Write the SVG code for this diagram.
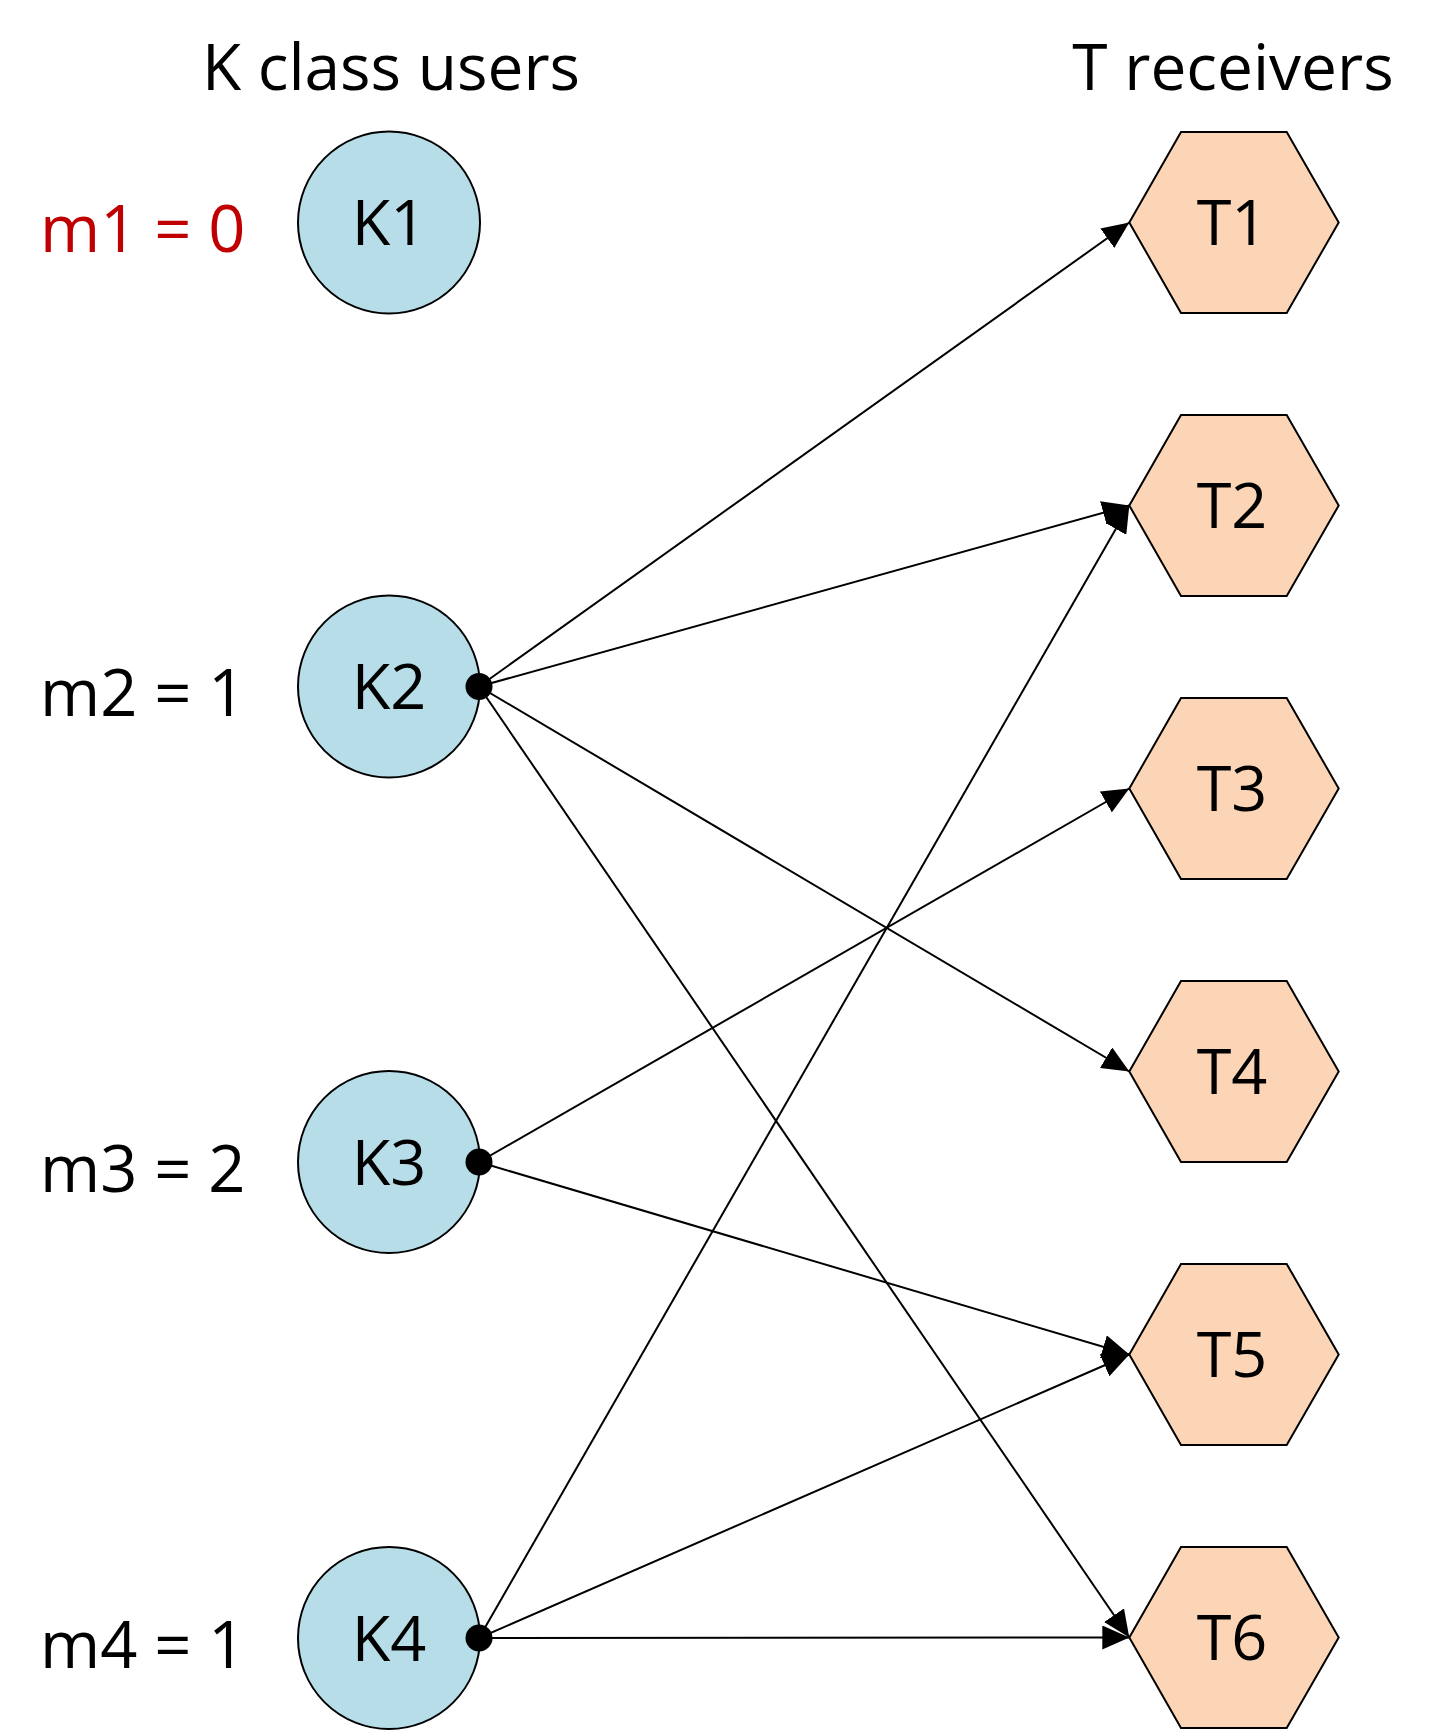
<svg xmlns="http://www.w3.org/2000/svg" width="1438" height="1731" viewBox="0 0 1438 1731">
<defs>
<style>
text{font-family:"Open Sans","Liberation Sans",sans-serif;fill:#000}
.title{font-size:64px;text-anchor:middle}
.lbl{font-size:63px;text-anchor:middle}
.m{font-size:65px;text-anchor:start}
.user{fill:#B7DDE8;stroke:#000;stroke-width:2}
.rx{fill:#FBD5B5;stroke:#000;stroke-width:2}
.edge{stroke:#000;stroke-width:2;fill:none;marker-end:url(#arr)}
.dot{fill:#000}
</style>
<marker id="arr" markerUnits="userSpaceOnUse" markerWidth="28" markerHeight="24" refX="27" refY="12" orient="auto">
<path d="M0,0 L27,12 L0,24 z" fill="#000"/>
</marker>
</defs>
<rect width="1438" height="1731" fill="#fff"/>
<text class="title" x="391" y="90">K class users</text>
<text class="title" x="1233" y="90">T receivers</text>
<text class="m" x="40" y="252" style="fill:#C00000">m1 = 0</text>
<text class="m" x="40" y="716">m2 = 1</text>
<text class="m" x="40" y="1192">m3 = 2</text>
<text class="m" x="40" y="1668">m4 = 1</text>
<g id="K1"><circle class="user" cx="389" cy="222.5" r="91"/><text class="lbl" x="389" y="245">K1</text></g>
<g id="K2"><circle class="user" cx="389" cy="686.5" r="91"/><text class="lbl" x="389" y="709">K2</text></g>
<g id="K3"><circle class="user" cx="389" cy="1162" r="91"/><text class="lbl" x="389" y="1184.5">K3</text></g>
<g id="K4"><circle class="user" cx="389" cy="1638" r="91"/><text class="lbl" x="389" y="1660.5">K4</text></g>
<g id="T1"><polygon class="rx" points="1129.3,222.5 1181,132 1286.7,132 1338.7,222.5 1286.7,313 1181,313"/><text class="lbl" x="1232" y="244.5">T1</text></g>
<g id="T2"><polygon class="rx" points="1129.3,505.5 1181,415 1286.7,415 1338.7,505.5 1286.7,596 1181,596"/><text class="lbl" x="1232" y="527.5">T2</text></g>
<g id="T3"><polygon class="rx" points="1129.3,788.5 1181,698 1286.7,698 1338.7,788.5 1286.7,879 1181,879"/><text class="lbl" x="1232" y="810.5">T3</text></g>
<g id="T4"><polygon class="rx" points="1129.3,1071.5 1181,981 1286.7,981 1338.7,1071.5 1286.7,1162 1181,1162"/><text class="lbl" x="1232" y="1093.5">T4</text></g>
<g id="T5"><polygon class="rx" points="1129.3,1354.5 1181,1264 1286.7,1264 1338.7,1354.5 1286.7,1445 1181,1445"/><text class="lbl" x="1232" y="1376.5">T5</text></g>
<g id="T6"><polygon class="rx" points="1129.3,1637.5 1181,1547 1286.7,1547 1338.7,1637.5 1286.7,1728 1181,1728"/><text class="lbl" x="1232" y="1659.5">T6</text></g>
<g id="connectors">
<line class="edge" x1="479" y1="686.5" x2="1129.3" y2="222.5"/>
<line class="edge" x1="479" y1="686.5" x2="1129.3" y2="505.5"/>
<line class="edge" x1="479" y1="686.5" x2="1129.3" y2="1071.5"/>
<line class="edge" x1="479" y1="686.5" x2="1129.3" y2="1637.5"/>
<line class="edge" x1="479" y1="1162" x2="1129.3" y2="788.5"/>
<line class="edge" x1="479" y1="1162" x2="1129.3" y2="1354.5"/>
<line class="edge" x1="479" y1="1638" x2="1129.3" y2="505.5"/>
<line class="edge" x1="479" y1="1638" x2="1129.3" y2="1354.5"/>
<line class="edge" x1="479" y1="1638" x2="1129.3" y2="1637.5"/>
<circle class="dot" cx="479" cy="686.5" r="13.5"/>
<circle class="dot" cx="479" cy="1162" r="13.5"/>
<circle class="dot" cx="479" cy="1638" r="13.5"/>
</g>
</svg>
